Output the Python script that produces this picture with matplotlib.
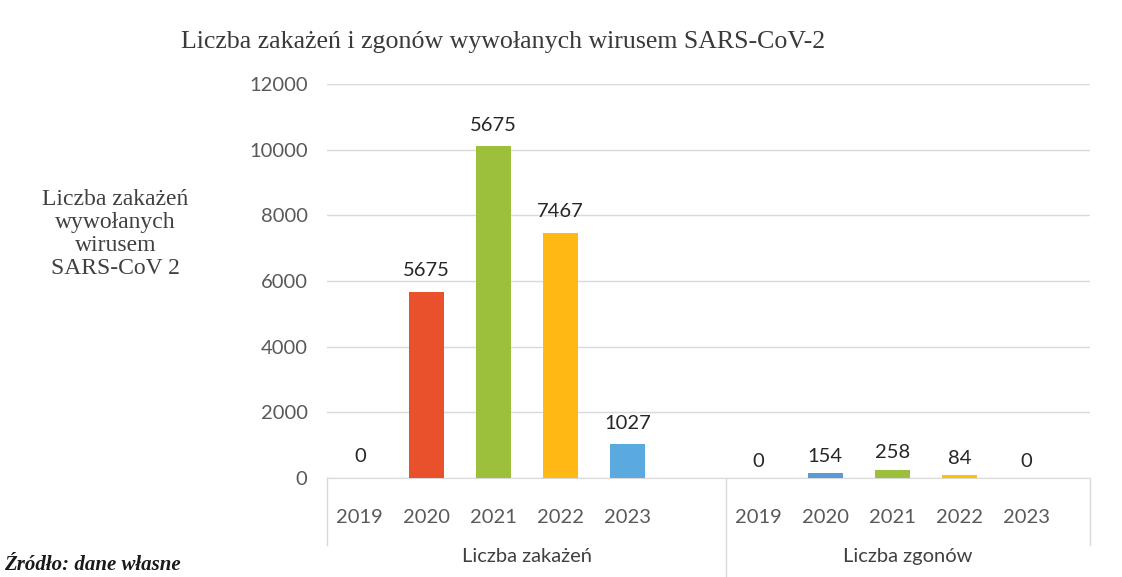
import numpy as np
from matplotlib import pyplot as plt

# dane
lata = ['2019', '2020', '2021', '2022', '2023']
zakazenia = [0, 5675, 10100, 7467, 1027]
zakazenia_etykiety = ['0', '5675', '5675', '7467', '1027']
zgony = [0, 154, 258, 84, 0]
zgony_etykiety = ['0', '154', '258', '84', '0']
grupy = ['Liczba zakażeń', 'Liczba zgonów']
kolory_zakazenia = ['#5B9BD5', '#E9502C', '#9DC03C', '#FFB814', '#5AAAE0']
kolory_zgony = ['#5B9BD5', '#5B9BD5', '#9DC03C', '#FFC000', '#5B9BD5']

SANS = 'Lato'
SERIF = 'Liberation Serif'
GRID = '#D9D9D9'

fig = plt.figure(figsize=(11.22, 5.77), dpi=100)
ax = fig.add_axes([0.2914, 0.1716, 0.680, 0.6828])

x1 = np.arange(5)
x2 = np.arange(5) + 5.95
szer = 0.52

ax.bar(x1, zakazenia, szer, color=kolory_zakazenia, zorder=3)
ax.bar(x2, zgony, szer, color=kolory_zgony, zorder=3)

# etykiety danych
for xs, ys, labs, off in ((x1, zakazenia, zakazenia_etykiety, 9), (x2, zgony, zgony_etykiety, 6)):
    for x, y, t in zip(xs, ys, labs):
        ax.annotate(t, (x, y), xytext=(0, off), textcoords='offset points',
                    ha='center', va='bottom', fontsize=14.5,
                    family=SANS, color='#262626')

ax.set_xlim(-0.49, 10.9)
ax.set_ylim(0, 12000)
ax.set_yticks(np.arange(0, 12001, 2000))
ax.yaxis.grid(True, color=GRID, lw=1, zorder=0)
ax.set_axisbelow(True)
for s in ('top', 'right', 'left'):
    ax.spines[s].set_visible(False)
ax.spines['bottom'].set_color(GRID)

ax.set_xticks(np.concatenate([x1, x2]))
ax.set_xticklabels(lata + lata)
ax.tick_params(axis='x', length=0, pad=22, labelsize=14.5, labelcolor='#595959')
ax.tick_params(axis='y', length=0, pad=14, labelsize=14.5, labelcolor='#595959')
for lab in ax.get_xticklabels() + ax.get_yticklabels():
    lab.set_family(SANS)

# ramki osi kategorii (dwa poziomy)
trans = ax.get_xaxis_transform()
xdiv = 5.47
for xv, dol in ((-0.49, -0.17), (xdiv, -0.26), (10.9, -0.17)):
    ax.plot([xv, xv], [0, dol], transform=trans, color=GRID, lw=1, clip_on=False)

ax.text((-0.49 + xdiv) / 2, -0.2, grupy[0], transform=trans, ha='center', va='center',
        fontsize=14.5, family=SANS, color='#404040')
ax.text((xdiv + 10.9) / 2, -0.2, grupy[1], transform=trans, ha='center', va='center',
        fontsize=14.5, family=SANS, color='#404040')

fig.text(0.448, 0.927, 'Liczba zakażeń i zgonów wywołanych wirusem SARS-CoV-2',
         ha='center', va='center', fontsize=18.6, family=SERIF, color='#3A3A3A')
fig.text(0.103, 0.594, 'Liczba zakażeń\nwywołanych\nwirusem\nSARS-CoV 2',
         ha='center', va='center', multialignment='center', fontsize=17,
         family=SERIF, color='#404040', linespacing=1.12)
fig.text(0.004, 0.004, 'Źródło: dane własne', ha='left', va='bottom',
         fontsize=15, family=SERIF, weight='bold', style='italic', color='#1A1A1A')

fig.savefig('out.png', dpi=100)
